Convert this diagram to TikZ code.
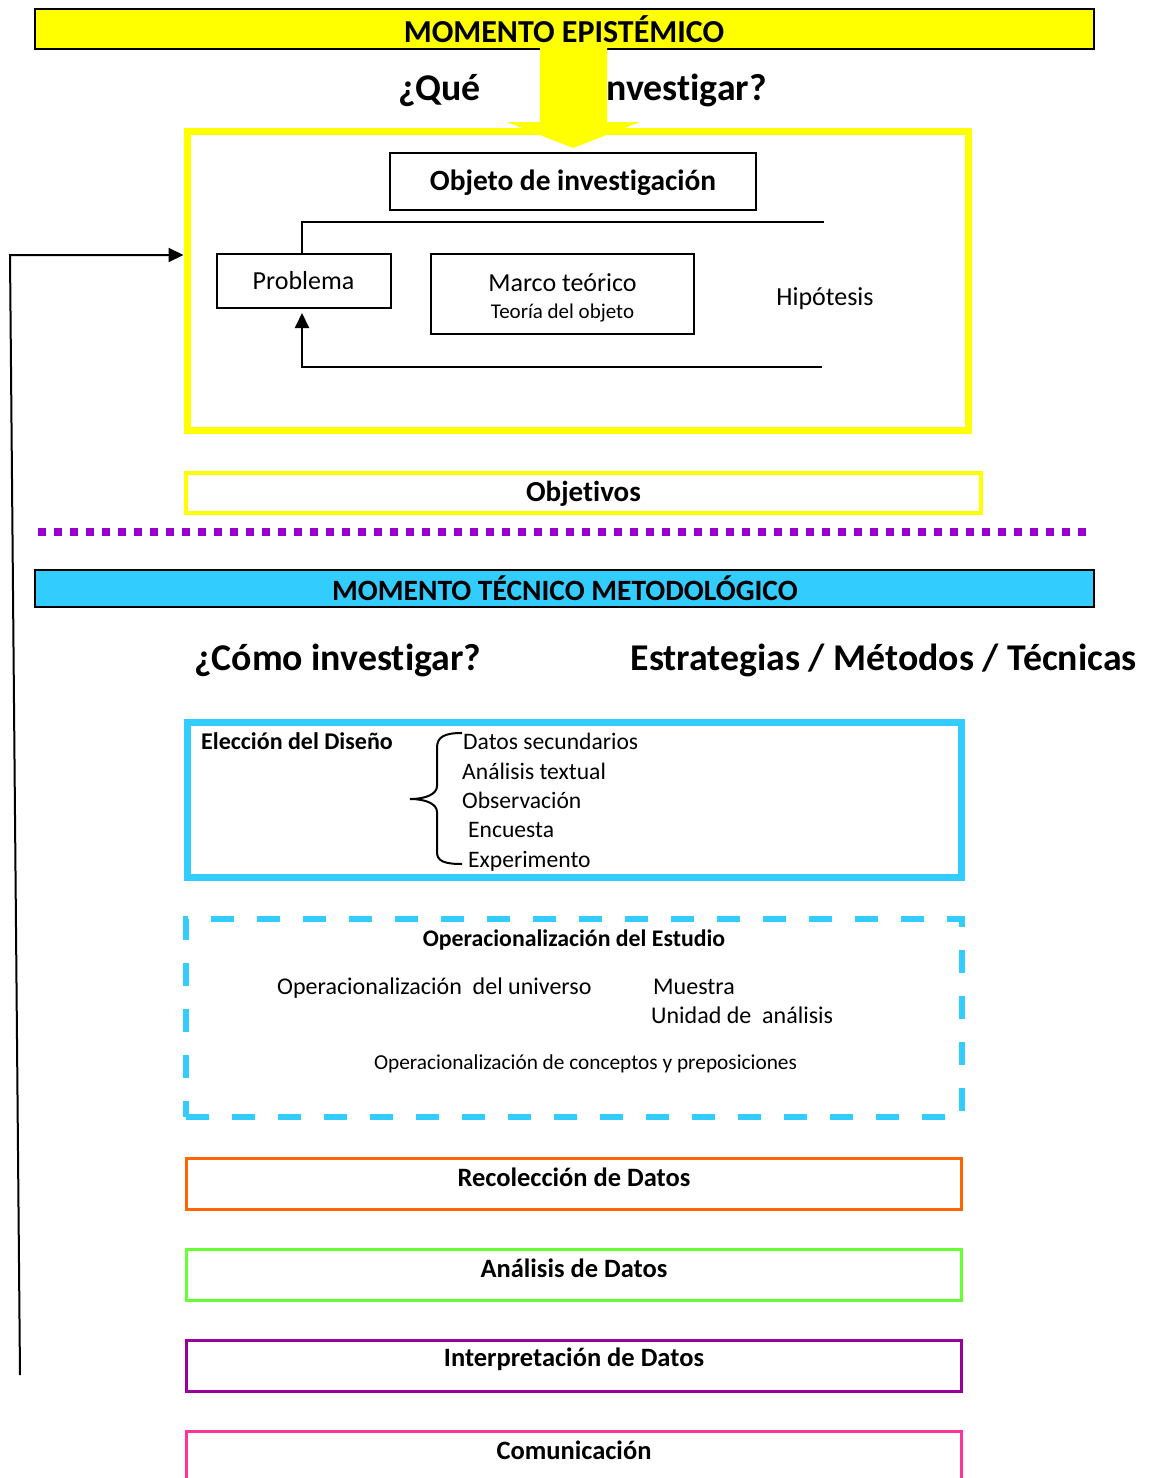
\documentclass[tikz,border=0pt]{standalone}
\usepackage{fontspec}
\setmainfont{Carlito}[Ligatures={NoCommon}]
\usetikzlibrary{arrows.meta}
\definecolor{ylw}{HTML}{FFFF00}
\definecolor{sky}{HTML}{33CCFF}
\definecolor{dotp}{HTML}{9900CC}
\definecolor{orng}{HTML}{FF6600}
\definecolor{lgrn}{HTML}{66FF33}
\definecolor{vio}{HTML}{990099}
\definecolor{pnk}{HTML}{FF3399}
\newcommand{\fsz}[1]{\fontsize{#1}{#1}\selectfont}
\begin{document}
\begin{tikzpicture}[x=1pt,y=-1pt,
  box/.style={draw, rectangle, inner sep=0pt},
  txt/.style={inner sep=0pt, text=black},
  banner/.style={box, fill=#1, draw=black, line width=2.2pt},
  thin/.style={line width=2pt, draw=black},
  stepbox/.style={box, draw=#1, line width=3pt},
  arr/.style={line width=2pt, -{Triangle[length=15pt,width=14pt]}}
]
\useasboundingbox (0,0) rectangle (1149,1478);

% ---------- MOMENTO EPISTEMICO ----------
\node[banner=ylw, minimum width=1059pt, minimum height=40pt] (ban1) at (564.5,29) {};
\node[txt, font=\fsz{32}\bfseries] (ban1t) at (564,29) {MOMENTO EPISTÉMICO};

\node[txt, font=\fsz{37.8}\bfseries, anchor=base west] (que) at (398,100) {¿Qué};
\node[txt, font=\fsz{37.8}\bfseries, anchor=base east] (inv) at (767,100) {investigar?};

\node[box, draw=ylw, line width=7pt, minimum width=781pt, minimum height=299pt] (frame) at (577.5,280.5) {};

\fill[ylw] (540,46) -- (607,46) -- (607,122) -- (640,122) -- (573,148) -- (507,122) -- (540,122) -- cycle;

\node[box, thin, minimum width=366pt, minimum height=57pt] (obj) at (573,181.5) {};
\node[txt, font=\fsz{29.4}\bfseries] (objt) at (573,183) {Objeto de investigación};

\node[box, thin, minimum width=174pt, minimum height=54pt, font=\fsz{26}] (prob) at (303.5,281) {Problema};

\node[box, thin, minimum width=263pt, minimum height=80pt] (marco) at (562.5,294) {};
\node[txt, font=\fsz{26}, anchor=base] (marcot) at (562.5,291) {Marco teórico};
\node[txt, font=\fsz{21}, anchor=base] (marcos) at (562.5,318) {Teoría del objeto};

\node[txt, font=\fsz{26}] (hip) at (825,299) {Hipótesis};

\coordinate (pTop) at (302,222);
\coordinate (h1) at (824,222);
\coordinate (pBot) at (302,367);
\coordinate (h2) at (822,367);
\draw[thin] (pTop |- prob.north) -- (pTop) -- (h1);
\draw[arr, shorten >=4pt] (h2) -- (pBot) -- (pBot |- prob.south);

% feedback line
\coordinate (fbA) at (20,1375);
\coordinate (fbB) at (10,255);
\draw[arr] (fbA) -- (fbB) -- (frame.west |- fbB);

% Objetivos
\node[box, draw=ylw, line width=4pt, minimum width=795pt, minimum height=40pt] (objv) at (583.5,493) {};
\node[txt, font=\fsz{29}\bfseries] (objvt) at (583.5,494) {Objetivos};

% separator
\draw[dotp, line width=8pt, dash pattern=on 8pt off 8pt] (38,532) -- (1090,532);

% ---------- MOMENTO TECNICO ----------
\node[banner=sky, minimum width=1059pt, minimum height=37pt] (ban2) at (564.5,588.5) {};
\node[txt, font=\fsz{29.5}\bfseries] (ban2t) at (565,588) {MOMENTO TÉCNICO METODOLÓGICO};

\node[txt, font=\fsz{37.8}\bfseries, anchor=base west] (como) at (194,670) {¿Cómo investigar?};
\node[txt, font=\fsz{37.8}\bfseries, anchor=base east] (estr) at (1137,670) {Estrategias / Métodos / Técnicas};

% Eleccion del diseno
\node[box, draw=sky, line width=7pt, minimum width=774pt, minimum height=155pt] (elec) at (574,799.5) {};
\node[txt, font=\fsz{24}\bfseries, anchor=base west] (elect) at (201,749) {Elección del Diseño};
\draw[line width=2pt] (462,733) .. controls (444,733) and (437,737) .. (437,748) -- (437,786)
  .. controls (437,794) and (426,799) .. (410,799)
  .. controls (426,799) and (437,804) .. (437,812) -- (437,852)
  .. controls (437,861) and (444,864) .. (462,864);
\node[txt, font=\fsz{23.6}, anchor=base west] (l1) at (463,749) {Datos secundarios};
\node[txt, font=\fsz{23.6}, anchor=base west] (l2) at (462,779) {Análisis textual};
\node[txt, font=\fsz{23.6}, anchor=base west] (l3) at (462,808) {Observación};
\node[txt, font=\fsz{23.6}, anchor=base west] (l4) at (468,837) {Encuesta};
\node[txt, font=\fsz{23.6}, anchor=base west] (l5) at (468,867) {Experimento};

% Operacionalizacion
\node[box, draw=sky, line width=6pt, dash pattern=on 23pt off 23pt, minimum width=776pt, minimum height=198pt] (oper) at (574,1018) {};
\node[txt, font=\fsz{23.8}\bfseries] (opert) at (574,940) {Operacionalización del Estudio};
\node[txt, font=\fsz{24}, anchor=base west] (o1) at (277,994) {Operacionalización\ \ del universo};
\node[txt, font=\fsz{24}, anchor=base west] (o2) at (653,994) {Muestra};
\node[txt, font=\fsz{24}, anchor=base west] (o3) at (651,1023) {Unidad de\ \ análisis};
\node[txt, font=\fsz{21.3}] (o4) at (585.5,1064) {Operacionalización de conceptos y preposiciones};

% Steps
\node[stepbox=orng, minimum width=775pt, minimum height=51pt] (rec) at (573.5,1183.5) {};
\node[txt, font=\fsz{26.5}\bfseries] (rect) at (574,1177) {Recolección de Datos};
\node[stepbox=lgrn, minimum width=775pt, minimum height=51pt] (ana) at (573.5,1274.5) {};
\node[txt, font=\fsz{26.5}\bfseries] (anat) at (574,1268) {Análisis de Datos};
\node[stepbox=vio, minimum width=775pt, minimum height=51pt] (int) at (573.5,1365.5) {};
\node[txt, font=\fsz{26.5}\bfseries] (intt) at (574,1359) {Interpretación de Datos};
\coordinate (cA) at (186,1480);
\coordinate (cB) at (186,1431);
\coordinate (cC) at (961,1431);
\coordinate (cD) at (961,1480);
\draw[pnk, line width=3pt] (cA) -- (cB) -- (cC) -- (cD);
\node[txt, font=\fsz{26.5}\bfseries] (comt) at (574,1450) {Comunicación};
\end{tikzpicture}
\end{document}
